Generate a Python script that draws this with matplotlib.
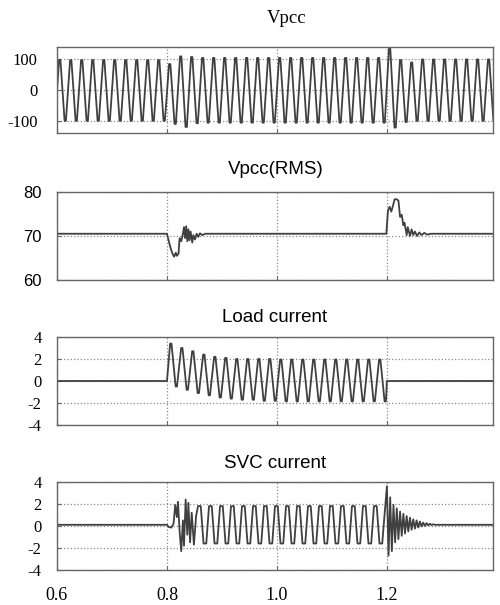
import numpy as np
import matplotlib.pyplot as plt

SERIF = "Liberation Serif"
SANS = "Liberation Sans"

# ── axes / text ─────────────────────────────────────────
titles = ["Vpcc", "Vpcc(RMS)", "Load current", "SVC current"]
x_ticks = [0.6, 0.8, 1.0, 1.2]
x_labels = ["0.6", "0.8", "1.0", "1.2"]
x_range = (0.6, 1.393)

vpcc_ticks = [-100, 0, 100]
rms_ticks = [60, 70, 80]
current_ticks = [-4, -2, 0, 2, 4]

# ── data ───────────────────────────────────────────────
half_period = 0.01          # 50 Hz -> one extreme every 10 ms

# Vpcc: successive extremes, first one at t = 0.595
vpcc_t0 = 0.595
vpcc_peaks = ([-98] + [98, -100] * 10
              + [85, -110, 110, -120, 108, -108]
              + [105, -106] * 17
              + [135, -122, 98, -104, 90, -100]
              + [100, -100] * 7)

# Vpcc(RMS)
rms_t = [0.600, 0.800, 0.803, 0.806, 0.810, 0.813, 0.816, 0.818, 0.821, 0.823,
         0.826, 0.829, 0.831, 0.833, 0.835, 0.837, 0.839, 0.841, 0.843, 0.846,
         0.848, 0.851, 0.854, 0.857, 0.860, 0.864, 0.870,
         1.199, 1.202, 1.205, 1.208, 1.211, 1.214, 1.218, 1.221, 1.224, 1.227,
         1.230, 1.232, 1.236, 1.238, 1.242, 1.245, 1.248, 1.251, 1.255, 1.259,
         1.263, 1.268, 1.273, 1.280, 1.290, 1.395]
rms_v = [70.5, 70.5, 69.0, 67.5, 66.0, 65.3, 66.2, 65.5, 66.0, 69.5,
         68.8, 70.5, 72.0, 69.5, 72.2, 68.8, 71.5, 69.0, 71.0, 68.5,
         70.2, 69.2, 70.5, 69.8, 70.6, 70.2, 70.5,
         70.5, 75.8, 76.6, 75.5, 76.8, 78.3, 78.3, 78.0, 74.3, 74.8,
         72.4, 73.0, 70.2, 72.0, 70.0, 71.5, 70.2, 71.0, 70.0, 70.8,
         70.2, 70.7, 70.3, 70.5, 70.5, 70.5]

# load current: zero outside 0.8 .. 1.2 s
load_on, load_off = 0.8, 1.2
load_t0 = 0.807
load_peaks = ([3.4, -0.5, 3.0, -0.8, 2.7, -1.1, 2.4, -1.3, 2.2, -1.5,
               2.1, -1.6, 2.0, -1.7, 2.0, -1.7, 2.0, -1.8, 2.0, -1.8]
              + [1.95, -1.85] * 10)

# SVC current
svc_base = 0.1
svc_on_t = [0.800, 0.803, 0.808, 0.812, 0.815, 0.818, 0.820, 0.823, 0.826,
            0.829, 0.831, 0.834, 0.837, 0.839, 0.842, 0.845, 0.849, 0.853]
svc_on_v = [0.1, -0.1, -0.15, 0.2, 1.9, 0.8, 2.2, -0.5, -2.3,
            0.5, -1.8, 2.4, -0.8, 2.1, -1.5, 1.2, -1.7, 0.9]
svc_t0 = 0.859
svc_peaks = [1.8, -1.6] * 17
svc_off_t0 = 1.2
svc_off_step = 0.003
svc_off_peaks = [3.6, -2.7, 2.6, -2.3, 1.9, -1.5, 1.6, -1.2, 1.3, -0.9,
                 1.1, -0.7, 0.9, -0.5, 0.75, -0.35, 0.6, -0.25, 0.5, -0.15,
                 0.4, -0.05, 0.3, 0.0, 0.25, 0.05, 0.2, 0.08, 0.15, 0.1]


def extremes(t0, step, peaks, flat=0.0):
    """Vertices at each extreme; with flat > 0 every extreme is held for 2*flat s."""
    t = t0 + step * np.arange(len(peaks))
    v = np.asarray(peaks, float)
    if flat > 0:
        t = np.repeat(t, 2) + np.tile([-flat, flat], len(v))
        v = np.repeat(v, 2)
    return t, v


# ── build series ───────────────────────────────────────
vpcc_t, vpcc_v = extremes(vpcc_t0, half_period, vpcc_peaks, flat=0.0012)

lt, lv = extremes(load_t0, half_period, load_peaks, flat=0.0012)
load_t = np.concatenate([[x_range[0], load_on], lt, [load_off, x_range[1]]])
load_v = np.concatenate([[0, 0], lv, [0, 0]])

st, sv = extremes(svc_t0, half_period, svc_peaks, flat=0.0025)
ot, ov = extremes(svc_off_t0, svc_off_step, svc_off_peaks)
svc_t = np.concatenate([[x_range[0]], svc_on_t, st, ot, [x_range[1]]])
svc_v = np.concatenate([[svc_base], svc_on_v, sv, ov, [svc_base]])

# ── figure ─────────────────────────────────────────────
fig = plt.figure(figsize=(5.0, 6.05), dpi=100)

rects = [
    (0.114, 0.780, 0.872, 0.142),
    (0.114, 0.537, 0.872, 0.146),
    (0.114, 0.2975, 0.872, 0.1455),
    (0.114, 0.058, 0.872, 0.1455),
]
series = [(vpcc_t, vpcc_v), (rms_t, rms_v), (load_t, load_v), (svc_t, svc_v)]
ylims = [(-140, 140), (60, 80), (-4, 4), (-4, 4)]
yticks = [vpcc_ticks, rms_ticks, current_ticks, current_ticks]
tick_fonts = [SERIF, SANS, SERIF, SERIF]
tick_pads = [14, 11, 11, 11]
title_font = [SERIF, SANS, SANS, SANS]
title_xy = [(287, 18.5), (276, 169), (275, 317), (275, 463)]   # pixels

for i, rect in enumerate(rects):
    ax = fig.add_axes(rect)
    t, v = series[i]
    ax.plot(t, v, color="#404040", lw=1.3)

    ax.set_xlim(*x_range)
    ax.set_ylim(*ylims[i])
    ax.set_yticks(yticks[i])
    ax.set_yticklabels([str(y) for y in yticks[i]],
                       fontfamily=tick_fonts[i], fontsize=12)
    ax.set_xticks(x_ticks)
    if i == 3:
        ax.set_xticklabels(x_labels, fontfamily=SERIF, fontsize=13)
    else:
        ax.set_xticklabels([])

    ax.grid(True, linestyle=":", color="#8a8a8a", lw=0.9)
    ax.tick_params(direction="in", length=3, color="#666666")
    ax.tick_params(axis="y", pad=tick_pads[i])
    ax.tick_params(axis="x", pad=12)
    for sp in ax.spines.values():
        sp.set_color("#666666")
        sp.set_linewidth(1.0)

    tx, ty = title_xy[i]
    fig.text(tx / 500, 1 - ty / 605, titles[i], ha="center", va="center",
             fontfamily=title_font[i], fontsize=13.5)

fig.savefig("out.png", dpi=100)
